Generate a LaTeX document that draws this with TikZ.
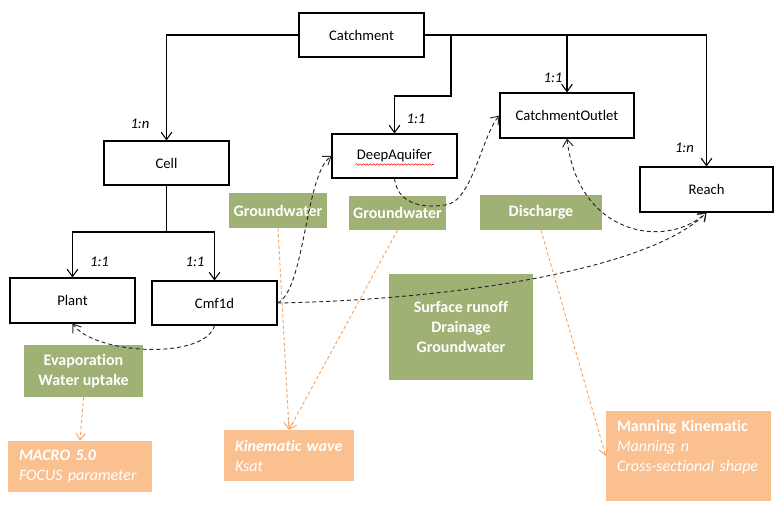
\documentclass[tikz,border=0pt]{standalone}
\usepackage{fontspec}
\setmainfont[Ligatures=NoCommon]{Carlito}
\usetikzlibrary{arrows.meta,calc,decorations.pathmorphing}
\definecolor{grn}{HTML}{9FB175}
\definecolor{org}{HTML}{FAC090}
\definecolor{orgline}{HTML}{F5A565}
\newcommand\pxu{*0.75pt}
\begin{document}
\begin{tikzpicture}[x=0.75pt,y=-0.75pt,
 ent/.style={draw=black,line width=0.8pt,fill=white,inner sep=0pt,font=\fontsize{11}{13}\selectfont},
 grnbox/.style={fill=grn,text=white,inner sep=0pt,align=center,font=\fontsize{12}{15}\selectfont\bfseries},
 orgbox/.style={fill=org,text=white,inner ysep=0pt,inner xsep=11\pxu,align=left,font=\fontsize{12}{15}\selectfont},
 conn/.style={draw=black,line width=0.8pt,-{Straight Barb[length=5.5pt,width=8pt]}},
 flow/.style={draw=black!85,line width=0.7pt,dash pattern=on 3pt off 2.2pt,-{Straight Barb[length=5.5pt,width=8pt]}},
 par/.style={draw=orgline,line width=0.7pt,dash pattern=on 2.5pt off 1.8pt,-{Straight Barb[length=5pt,width=7pt]}},
 card/.style={font=\fontsize{11}{13}\selectfont\itshape,inner sep=0pt}]
\useasboundingbox (0,0) rectangle (781,511);

% entities
\node[ent,minimum width=125\pxu,minimum height=44\pxu] (cat) at (361.5,35) {Catchment};
\node[ent,minimum width=125\pxu,minimum height=44\pxu] (cell) at (166.5,163) {Cell};
\node[ent,minimum width=125\pxu,minimum height=44\pxu] (deep) at (394.5,156) {DeepAquifer};
\node[ent,minimum width=134\pxu,minimum height=45\pxu] (out) at (567,115.5) {CatchmentOutlet};
\node[ent,minimum width=133\pxu,minimum height=45\pxu] (reach) at (706.5,189.5) {Reach};
\node[ent,minimum width=125\pxu,minimum height=45\pxu] (plant) at (72.5,300.5) {Plant};
\node[ent,minimum width=125\pxu,minimum height=44\pxu] (cmf) at (214.5,303) {Cmf1d};

% spell-check squiggle
\draw[red,line width=0.4pt,decorate,decoration={snake,amplitude=0.6pt,segment length=2.6pt}]
  ($(deep.center)+(-39,8.5)$) -- ($(deep.center)+(39,8.5)$);

% flux boxes
\node[grnbox,minimum width=98\pxu,minimum height=35\pxu] (gw1) at (278,210.5) {Groundwater};
\node[grnbox,minimum width=97\pxu,minimum height=34\pxu] (gw2) at (397.5,213) {Groundwater};
\node[grnbox,minimum width=122\pxu,minimum height=35\pxu] (dis) at (541,212.5) {Discharge};
\node[grnbox,minimum width=119\pxu,minimum height=52\pxu] (evap) at (83.5,371) {Evaporation\\Water uptake};
\node[grnbox,minimum width=144\pxu,minimum height=106\pxu] (surf) at (461,327) {Surface runoff\\Drainage\\Groundwater};

% parameter boxes
\node[orgbox,text width=122\pxu,minimum height=51\pxu] (macro) at (80,466.5) {\textbf{\itshape MACRO 5.0}\\\itshape FOCUS parameter};
\node[orgbox,text width=108\pxu,minimum height=51\pxu] (kin) at (289,455.5) {\textbf{\itshape Kinematic wave}\\\itshape Ksat};
\node[orgbox,text width=143\pxu,minimum height=90\pxu] (man) at (688.5,456) {\textbf{Manning Kinematic}\\\itshape Manning n\\\itshape Cross-sectional shape\\\mbox{}};

% structural connectors
\coordinate (j1) at (451,35);
\coordinate (j1b) at (451,96);
\coordinate (jc) at (166.5,232);
\draw[conn] (cat.west) -| (cell.north);
\draw[conn] (cat.east) -| (reach.north);
\draw[conn] (j1) -- (j1b) -| (deep.north);
\draw[conn] (cat.east -| out.north) -- (out.north);
\draw[conn] (cell.south) -- (jc) -| (plant.north);
\draw[conn] (jc) -| (cmf.north);

% cardinalities
\node[card] (c1) at (140,124) {1:n};
\node[card] (c2) at (99.5,262) {1:1};
\node[card] (c3) at (195,262) {1:1};
\node[card] (c4) at (416,119) {1:1};
\node[card] (c5) at (553,78) {1:1};
\node[card] (c6) at (684.5,148) {1:n};

% flows
\draw[flow] (cmf.east) .. controls (305,290) and (305,175) .. (deep.west);
\draw[flow] (cmf.east) .. controls (450,300) and (650,270) .. (reach.south);
\draw[flow] (deep.south) .. controls (397,202) and (420,209) .. (445,205)
   .. controls (472,203) and (482,135) .. (out.west);
\draw[flow,{Straight Barb[length=5.5pt,width=8pt]}-{Straight Barb[length=5.5pt,width=8pt]}]
   (out.south) .. controls (578,235) and (665,250) .. (reach.south);
\draw[flow] (cmf.south) .. controls (205,360) and (95,355) .. (plant.south);

% parameter links
\draw[par] (gw1.south) -- (kin.north);
\draw[par] (gw2.south) -- (kin.north);
\draw[par] (dis.south) -- (man.west);
\draw[par] (evap.south) -- (macro.north);
\end{tikzpicture}
\end{document}
